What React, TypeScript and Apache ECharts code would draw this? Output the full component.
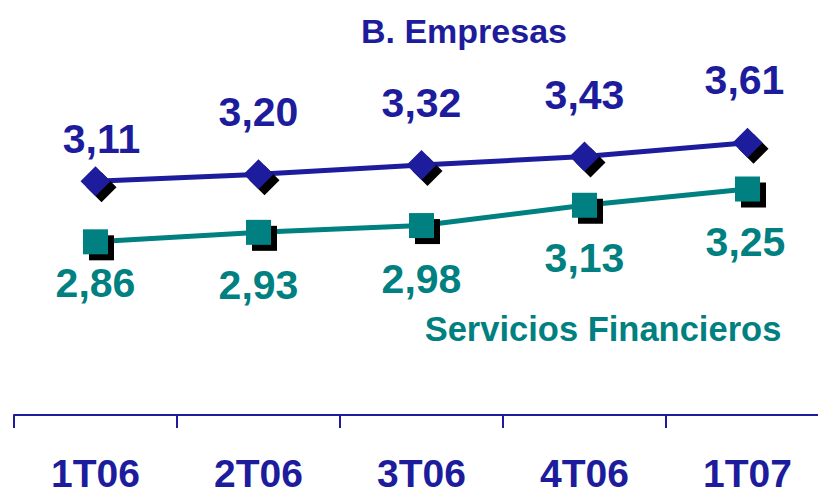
import React, { useEffect, useRef } from 'react';
import * as echarts from 'echarts';

const categories = ['1T06', '2T06', '3T06', '4T06', '1T07'];
const empresas = [3.11, 3.2, 3.32, 3.43, 3.61];
const financieros = [2.86, 2.93, 2.98, 3.13, 3.25];
const seriesNames = ['B. Empresas', 'Servicios Financieros'];

const NAVY = '#1c1c9c';
const TEAL = '#008080';
const FONT = '"Liberation Sans", Arial, sans-serif';

// label offsets (layout only)
const empLabelDx = [6, 0, 0, 0, -3];
const empLabelDy = [-42, -62, -62, -62, -63];
const finLabelDx = [0, 0, 0, 0, -2];
const finLabelDy = [41, 53, 53, 53, 53];

const fmt = (v: number) => v.toFixed(2).replace('.', ',');

function buildSeries(
  name: string,
  vals: number[],
  yIdx: number,
  color: string,
  symbol: string,
  size: number,
  dxs: number[],
  dys: number[]
) {
  return [
    {
      name,
      type: 'line',
      yAxisIndex: yIdx,
      data: vals,
      symbol: 'none',
      lineStyle: { color, width: 5, opacity: 1 },
      z: 2,
      silent: true,
    },
    {
      type: 'scatter',
      yAxisIndex: yIdx,
      data: vals,
      symbol,
      symbolSize: size,
      symbolOffset: [6, 6],
      itemStyle: { color: '#000000', opacity: 1 },
      z: 3,
      silent: true,
    },
    {
      type: 'scatter',
      yAxisIndex: yIdx,
      data: vals.map((v, i) => ({ value: v, label: { offset: [dxs[i], dys[i]] } })),
      symbol,
      symbolSize: size,
      itemStyle: { color, opacity: 1 },
      z: 4,
      silent: true,
      label: {
        show: true,
        position: 'inside',
        formatter: (p: any) => fmt(Number(p.value)),
        fontSize: 41,
        fontWeight: 'bold',
        fontFamily: FONT,
        color,
        opacity: 1,
      },
    },
  ];
}

export default function App() {
  const ref = useRef<HTMLDivElement>(null);
  useEffect(() => {
    const chart = echarts.init(ref.current!, null, { renderer: 'svg' });
    chart.setOption({
      animation: false,
      backgroundColor: '#ffffff',
      grid: {
        left: 14,
        top: 40,
        width: 815,
        height: 375,
        containLabel: false,
        outerBoundsMode: 'none',
      },
      xAxis: {
        type: 'category',
        data: categories,
        boundaryGap: true,
        axisLine: { show: true, lineStyle: { color: NAVY, width: 2 } },
        axisTick: { show: true, length: 13, lineStyle: { color: NAVY, width: 2 } },
        axisLabel: {
          fontSize: 39,
          lineHeight: 38,
          fontWeight: 'bold',
          fontFamily: FONT,
          color: NAVY,
          margin: 39,
        },
        splitLine: { show: false },
      },
      yAxis: [
        { type: 'value', show: false, min: 0.0856, max: 4.9388, splitLine: { show: false } },
        { type: 'value', show: false, min: 1.581, max: 4.3505, splitLine: { show: false } },
      ],
      graphic: [
        {
          type: 'text',
          x: 464,
          y: 31,
          style: {
            text: seriesNames[0],
            fill: NAVY,
            font: `bold 34px ${FONT}`,
            textAlign: 'center',
            textVerticalAlign: 'middle',
            align: 'center',
            verticalAlign: 'middle',
          },
        },
        {
          type: 'text',
          x: 603,
          y: 329,
          style: {
            text: seriesNames[1],
            fill: TEAL,
            font: `bold 34.5px ${FONT}`,
            textAlign: 'center',
            textVerticalAlign: 'middle',
            align: 'center',
            verticalAlign: 'middle',
          },
        },
      ],
      series: [
        ...buildSeries(seriesNames[0], empresas, 0, NAVY, 'diamond', 30, empLabelDx, empLabelDy),
        ...buildSeries(seriesNames[1], financieros, 1, TEAL, 'rect', 25, finLabelDx, finLabelDy),
      ],
    });
    return () => chart.dispose();
  }, []);
  return (
    <div
      ref={ref}
      style={{ position: 'fixed', left: 0, top: 0, width: 818, height: 495, background: '#fff' }}
    />
  );
}
